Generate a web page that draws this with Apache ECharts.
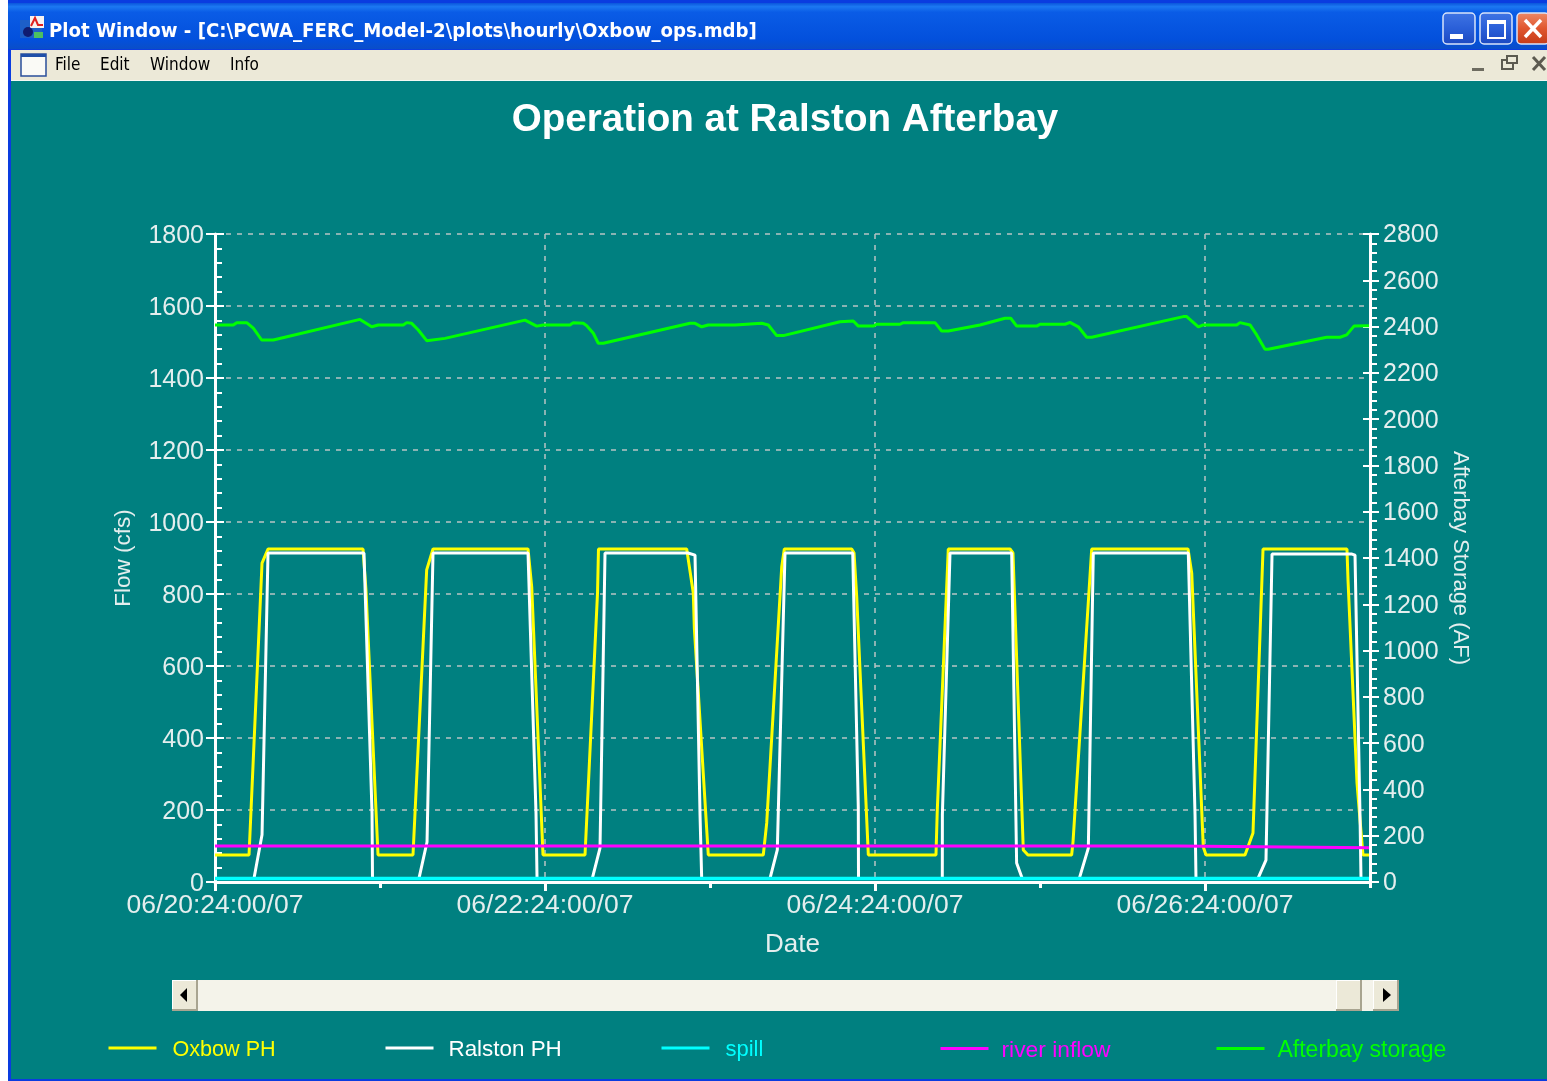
<!DOCTYPE html>
<html>
<head>
<meta charset="utf-8">
<title>Operation at Ralston Afterbay</title>
<script src="https://cdn.jsdelivr.net/npm/echarts@6/dist/echarts.min.js"></script>
<style>html,body{margin:0;padding:0;background:#fff}#c{width:1547px;height:1081px}</style>
</head>
<body>
<div id="c"></div>
<script>
const chartTitle = 'Operation at Ralston Afterbay';
const windowTitle = 'Plot Window - [C:\\PCWA_FERC_Model-2\\plots\\hourly\\Oxbow_ops.mdb]';
const menuItems = ['File', 'Edit', 'Window', 'Info'];
const xTickHours = [0, 48, 96, 144];
const xTickLabels = ['06/20:24:00/07', '06/22:24:00/07', '06/24:24:00/07', '06/26:24:00/07'];

const oxbowHours = [0,4.95,6.84,7.71,21.53,21.96,23.71,28.8,30.79,31.71,45.53,46.07,47.71,53.82,55.64,55.78,68.61,69.57,69.72,71.75,79.75,80.25,82.43,82.81,92.61,92.95,93.34,95.03,104.87,105.06,106.66,115.64,116.07,117.57,118.25,124.6,124.8,127.52,141.53,142.07,143.75,144.15,149.82,150.98,152.44,164.65,164.8,166.11,166.55,166.98,167.85];
const oxbowFlow = [75,75,886,925,925,811,75,75,867,925,925,819,75,75,803,925,925,803,706,75,75,164,875,925,925,914,792,75,75,200,925,925,914,89,75,75,111,925,925,858,97,75,75,136,925,925,839,275,172,75,75];

const ralstonHours = [0,5.67,6.84,7.71,21.67,22.84,22.91,29.67,30.84,31.71,45.53,46.69,46.84,54.88,56,56.73,68.8,69.82,70.55,70.79,80.73,81.79,82.91,92.76,93.57,93.6,105.79,105.8,106.91,115.88,116.6,117.42,125.72,127.03,127.75,141.57,142.55,142.69,151.71,152.87,153.75,165.38,165.82,166.55,166.69,167.85];
const ralstonFlow = [10,10,131,914,914,192,10,10,111,914,914,192,10,10,94,914,914,908,186,10,10,89,914,914,208,10,10,186,914,914,53,10,10,94,914,914,186,10,10,61,911,911,908,181,10,10];

const spillHours = [0,167.85];
const spillFlow = [10,10];

const inflowHours = [0,140,167.85];
const inflowFlow = [100,100,95];

const storageHours = [0,2.66,3.16,4.61,5.57,6.79,8.48,21.09,22.79,23.75,27.39,27.88,28.61,29.57,30.79,33.45,45.09,46.79,47.75,51.64,52.12,53.57,54.07,55.03,55.75,56.48,69.09,69.82,70.79,71.75,75.64,75.88,79.52,80.48,81.7,82.66,90.91,92.84,93.57,95.75,96.25,99.64,100.12,104.73,105.7,106.66,111.27,114.91,115.74,116.61,119.52,120,123.64,124.36,125.57,126.79,127.52,140.84,141.34,143.03,143.75,148.61,149.09,150.55,151.52,152.73,153.21,161.7,163.64,164.61,165.67,167.85];
const storageAF = [2407,2407,2417,2417,2393,2342,2342,2431,2399,2407,2407,2417,2414,2385,2339,2349,2428,2402,2407,2407,2417,2414,2404,2371,2328,2328,2414,2414,2399,2407,2407,2414,2414,2407,2361,2361,2421,2424,2402,2402,2410,2410,2417,2417,2381,2381,2407,2436,2436,2402,2402,2410,2410,2418,2399,2354,2354,2443,2443,2399,2407,2407,2417,2407,2364,2302,2302,2354,2354,2364,2402,2404];

const pairs = (xs, ys) => xs.map((x, i) => [x, ys[i]]);
const teal = '#008080', axisText = '#e4eeee', gridColor = '#b8c4c4', face = '#ece9d8';

const seriesDefs = [
  {name:'Oxbow PH', color:'#ffff00', width:3, axis:0, data:pairs(oxbowHours, oxbowFlow), left:107, font:21.6, gap:16},
  {name:'Ralston PH', color:'#ffffff', width:3, axis:0, data:pairs(ralstonHours, ralstonFlow), left:384, font:22.4, gap:15},
  {name:'spill', color:'#00ffff', width:3.5, axis:0, data:pairs(spillHours, spillFlow), left:660, font:22, gap:16},
  {name:'river inflow', color:'#ff00ff', width:3, axis:0, data:pairs(inflowHours, inflowFlow), left:939, font:22.8, gap:13},
  {name:'Afterbay storage', color:'#00ff00', width:3, axis:1, data:pairs(storageHours, storageAF), left:1215, font:23, gap:13}
];
const drawOrder = [0,1,3,2,4];

function rect(x,y,w,h,fill,extra){return Object.assign({type:'rect',silent:true,shape:{x,y,width:w,height:h},style:{fill}},extra||{});}
function label(x,y,text,font,fill,extra){return Object.assign({type:'text',silent:true,x,y,style:{text,font,fill,verticalAlign:'middle'}},extra||{});}
function tri(points,fill){return {type:'polygon',silent:true,shape:{points},style:{fill}};}
function vgrad(stops){return {type:'linear',x:0,y:0,x2:0,y2:1,colorStops:stops.map((c,i)=>({offset:c[0],color:c[1]}))};}
function button3d(x,y,w,h){return [rect(x,y,w,h,'#a8a490'),rect(x,y,w-2,h-2,'#ffffff'),rect(x+1,y+1,w-3,h-3,face)];}

const xpBlue = vgrad([[0,'#0a55dc'],[0.08,'#1c78f2'],[0.2,'#0a5ce6'],[0.8,'#0350dc'],[1,'#0a4ec8']]);
const btnBlue = vgrad([[0,'#3f74e4'],[0.5,'#2a5fd8'],[1,'#1c48c0']]);
const btnRed = vgrad([[0,'#ee8a68'],[0.5,'#e0562e'],[1,'#c43a18']]);

function roundBtn(x,w,fill){return {type:'rect',silent:true,shape:{x,y:13,width:w,height:31,r:4},style:{fill,stroke:'#d8e4fa',lineWidth:1.5}};}

const chrome = [
  rect(0,0,1547,1081,'#ffffff'),
  rect(8,0,1539,1081,'#0a3ce0'),
  rect(11,81,1536,998,teal),
  rect(8,3,1539,46,xpBlue),
  rect(11,50,1536,30,face),
  rect(11,80,1536,1,'#f4f8f4'),
  // window icon
  rect(20,20,22,18,'#1d5fc8'),
  rect(30,16,14,12,'#f6f2f2'),
  {type:'polyline',silent:true,shape:{points:[[31,26],[35,18],[38,25],[43,25]]},style:{stroke:'#e02020',lineWidth:2,fill:null}},
  {type:'circle',silent:true,shape:{cx:28,cy:32,r:5},style:{fill:'#101c70'}},
  rect(34,32,9,6,'#4cc060'),
  label(49,32,windowTitle,'bold 20.2px "DejaVu Sans Condensed"','#ffffff'),
  // caption buttons
  roundBtn(1443,32,btnBlue), rect(1450,34,13,5,'#ffffff'),
  roundBtn(1480,32,btnBlue), {type:'rect',silent:true,shape:{x:1488,y:21,width:17,height:17},style:{fill:null,stroke:'#ffffff',lineWidth:2}}, rect(1488,20,17,4,'#ffffff'),
  roundBtn(1517,32,btnRed),
  {type:'line',silent:true,shape:{x1:1525,y1:20,x2:1541,y2:37},style:{stroke:'#ffffff',lineWidth:3.5}},
  {type:'line',silent:true,shape:{x1:1541,y1:20,x2:1525,y2:37},style:{stroke:'#ffffff',lineWidth:3.5}},
  // menu bar
  rect(21,54,25,22,'#fafaf6',{style:{fill:'#fafaf6',stroke:'#2a4f9a',lineWidth:1.5}}),
  rect(21,54,25,3,'#1f4fa8'),
  label(55,66,menuItems[0],'17px "DejaVu Sans Condensed"','#000000'),
  label(100,66,menuItems[1],'17px "DejaVu Sans Condensed"','#000000'),
  label(150,66,menuItems[2],'17px "DejaVu Sans Condensed"','#000000'),
  label(230,66,menuItems[3],'17px "DejaVu Sans Condensed"','#000000'),
  rect(1472,68,12,3,'#6e6c60'),
  {type:'rect',silent:true,shape:{x:1502,y:60,width:11,height:9},style:{fill:null,stroke:'#5c5a50',lineWidth:2}},
  {type:'rect',silent:true,shape:{x:1507,y:56,width:10,height:7},style:{fill:face,stroke:'#5c5a50',lineWidth:2}},
  {type:'line',silent:true,shape:{x1:1533,y1:57,x2:1545,y2:70},style:{stroke:'#5c5a50',lineWidth:3}},
  {type:'line',silent:true,shape:{x1:1545,y1:57,x2:1533,y2:70},style:{stroke:'#5c5a50',lineWidth:3}},
  // scrollbar
  rect(172,980,1226,31,'#f4f3ea'),
  ...button3d(172,980,26,31),
  tri([[187,988],[187,1002],[180,995]],'#000000'),
  ...button3d(1336,980,26,31),
  ...button3d(1373,980,26,31),
  tri([[1383,988],[1383,1002],[1391,995]],'#000000')
];

const chart = echarts.init(document.getElementById('c'), null, {renderer:'canvas', width:1547, height:1081});
const yBase = {type:'value', axisLine:{show:false,onZero:false}, splitLine:{show:false}, minorSplitLine:{show:false}};
const richNum = v => '{n|' + v + '}';

chart.setOption({
  animation:false,
  backgroundColor:teal,
  textStyle:{fontFamily:'"Liberation Sans"'},
  title:{text:chartTitle,left:780,top:96,textAlign:'center',textStyle:{color:'#ffffff',fontSize:38.6,fontWeight:'bold',fontFamily:'"Liberation Sans"'}},
  graphic:{elements:chrome.map(e=>Object.assign({z:-10,zlevel:0},e))},
  legend:seriesDefs.map(s=>({
    data:[s.name],left:s.left,top:1039,itemWidth:48,itemHeight:18,selectedMode:false,padding:0,
    itemStyle:{opacity:0},lineStyle:{width:3},
    formatter:n=>'{t|'+n+'}',
    textStyle:{color:s.color,rich:{t:{color:s.color,fontSize:s.font,padding:[4,0,0,s.gap-5],fontFamily:'"Liberation Sans"'}}}
  })),
  grid:{left:215,top:234,width:1155,height:648,containLabel:false},
  xAxis:[
    {type:'value',min:0,max:168,interval:48,position:'bottom',
     name:'Date',nameLocation:'middle',nameGap:50,nameTextStyle:{color:axisText,fontSize:26},
     axisLine:{show:true,onZero:false,lineStyle:{color:'#ffffff',width:3}},
     axisTick:{show:true,length:9,lineStyle:{color:'#ffffff',width:3}},
     axisLabel:{color:axisText,fontSize:26.5,margin:10,showMaxLabel:false,formatter:v=>{const i=xTickHours.indexOf(v);return i<0?'':xTickLabels[i];}},
     splitLine:{show:true,lineStyle:{color:gridColor,width:1.5,type:[5,6]}}},
    {type:'value',min:0,max:168,interval:24,position:'bottom',
     axisLine:{show:false,onZero:false},axisTick:{show:true,length:6,lineStyle:{color:'#ffffff',width:3}},axisLabel:{show:false},splitLine:{show:false}}
  ],
  yAxis:[
    Object.assign({},yBase,{min:0,max:1800,interval:200,position:'left',
      name:'Flow (cfs)',nameLocation:'middle',nameGap:80,nameTextStyle:{color:axisText,fontSize:22.5},
      axisLine:{show:true,onZero:false,lineStyle:{color:'#ffffff',width:3}},
      axisTick:{show:true,inside:true,length:9,lineStyle:{color:'#ffffff',width:2}},
      minorTick:{show:true,splitNumber:5,length:7,lineStyle:{color:'#ffffff',width:2}},
      axisLabel:{margin:11,formatter:richNum,rich:{n:{color:axisText,fontSize:25,padding:[5,0,0,0]}}},
      splitLine:{show:true,lineStyle:{color:gridColor,width:1.5,type:[5,6]}}}),
    Object.assign({},yBase,{min:0,max:2800,interval:200,position:'right',
      name:'Afterbay Storage (AF)',nameLocation:'middle',nameRotate:-90,nameGap:76,nameTextStyle:{color:axisText,fontSize:22},
      axisLine:{show:true,onZero:false,lineStyle:{color:'#ffffff',width:3}},
      axisTick:{show:true,length:9,lineStyle:{color:'#ffffff',width:2}},
      minorTick:{show:true,splitNumber:5,length:7,lineStyle:{color:'#ffffff',width:2}},
      axisLabel:{margin:13,align:'left',formatter:richNum,rich:{n:{color:axisText,fontSize:25,padding:[3,0,0,0]}}}}),
    Object.assign({},yBase,{min:0,max:1800,interval:200,position:'left',
      axisTick:{show:true,length:9,lineStyle:{color:'#ffffff',width:2}},axisLabel:{show:false}}),
    Object.assign({},yBase,{min:0,max:2800,interval:200,position:'right',
      axisTick:{show:true,inside:true,length:7,lineStyle:{color:'#ffffff',width:2}},axisLabel:{show:false}})
  ],
  series:drawOrder.map(i=>{const s=seriesDefs[i];return {
    name:s.name,type:'line',xAxisIndex:0,yAxisIndex:s.axis,data:s.data,showSymbol:false,symbol:'none',smooth:false,silent:true,
    clip:true,itemStyle:{color:s.color},lineStyle:{color:s.color,width:s.width},z:5+drawOrder.indexOf(i)};})
});
</script>
</body>
</html>
